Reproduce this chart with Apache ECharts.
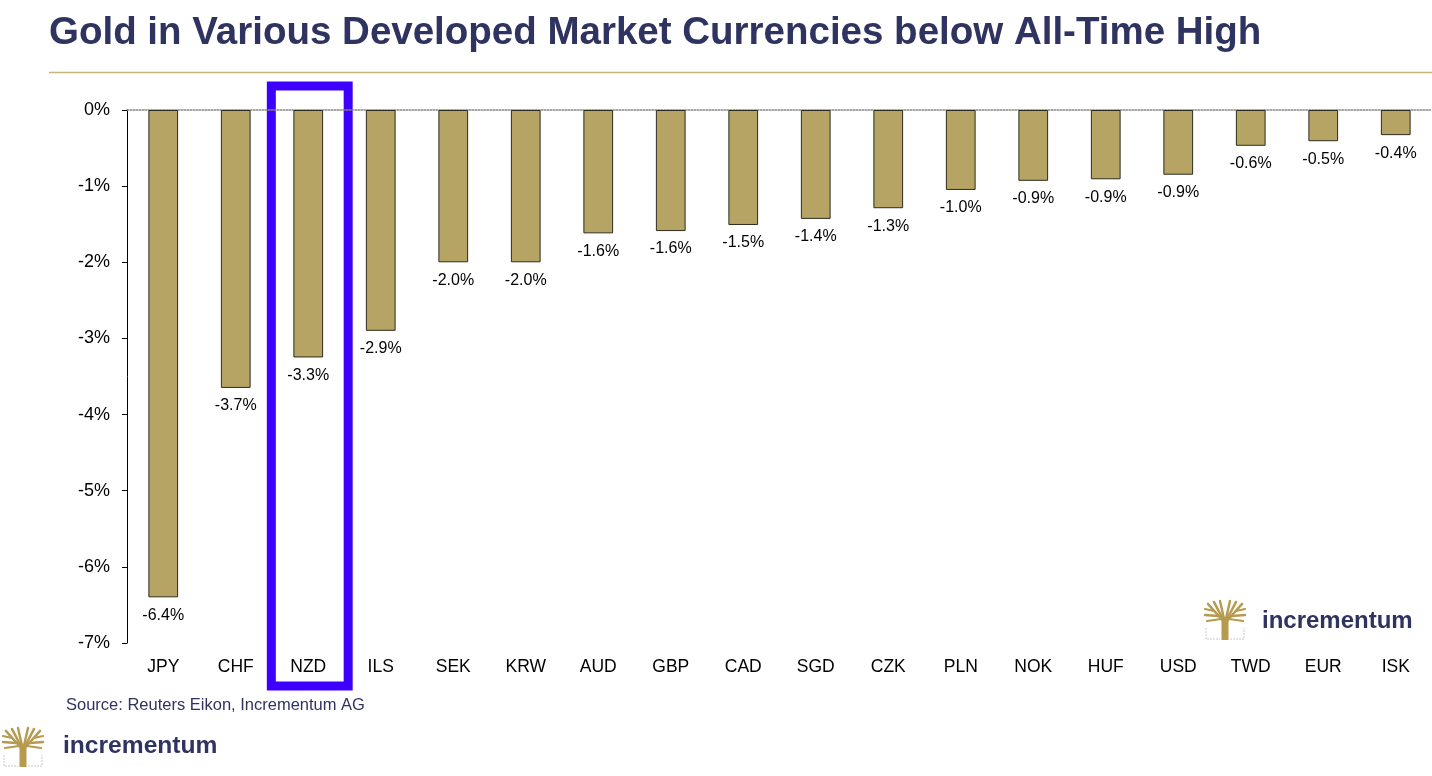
<!DOCTYPE html>
<html><head><meta charset="utf-8">
<script src="https://cdn.jsdelivr.net/npm/echarts@6/dist/echarts.min.js"></script>
<style>html,body{margin:0;padding:0;background:#fff}#c{width:1432px;height:776px}</style>
</head><body><div id="c"></div>
<script>
const categories = ['JPY','CHF','NZD','ILS','SEK','KRW','AUD','GBP','CAD','SGD','CZK','PLN','NOK','HUF','USD','TWD','EUR','ISK'];
const values = [-6.40,-3.65,-3.25,-2.90,-2.00,-2.00,-1.62,-1.59,-1.51,-1.43,-1.29,-1.05,-0.93,-0.91,-0.85,-0.47,-0.41,-0.33];
const labelTexts = ['-6.4%','-3.7%','-3.3%','-2.9%','-2.0%','-2.0%','-1.6%','-1.6%','-1.5%','-1.4%','-1.3%','-1.0%','-0.9%','-0.9%','-0.9%','-0.6%','-0.5%','-0.4%'];
const yTicks = [0,-1,-2,-3,-4,-5,-6,-7];
const highlighted = 'NZD';

const NAVY = '#2f3360', GOLD = '#b5a463';
const chart = echarts.init(document.getElementById('c'));
const font = 'Liberation Sans, Arial, sans-serif';

function treeIcon(x, y, s) {
  const c = [];
  const L = (x1,y1,x2,y2,w)=>c.push({type:'line',shape:{x1:x+x1*s,y1:y+y1*s,x2:x+x2*s,y2:y+y2*s},style:{stroke:'#b59a4f',lineWidth:w*s,lineCap:'round'}});
  c.push({type:'rect',shape:{x:x+16.5*s,y:y+18*s,width:7*s,height:21*s},style:{fill:'#b59a4f'}});
  L(20,22,3,3,2.6); L(20,22,9,1,2.6); L(20,22,15,0,2.4); L(20,22,25,0,2.4); L(20,22,31,1,2.6); L(20,22,37,3,2.6);
  L(13,15,0,14,2.4); L(27,15,40,14,2.4); L(9,10,0,8,2.2); L(31,10,40,8,2.2);
  L(16,18,2,20,2.2); L(24,18,38,20,2.2);
  c.push({type:'polyline',shape:{points:[[x+1*s,y+27*s],[x+1*s,y+38*s],[x+15*s,y+38*s]]},style:{stroke:'#c8c8c8',lineWidth:1,fill:null,lineDash:[2,1]}});
  c.push({type:'polyline',shape:{points:[[x+25*s,y+38*s],[x+39*s,y+38*s],[x+39*s,y+27*s]]},style:{stroke:'#c8c8c8',lineWidth:1,fill:null,lineDash:[2,1]}});
  return c;
}

const baseOption = {
  animation:false,
  backgroundColor:'#fff',
  grid:{left:127,right:0,top:110,bottom:133},
  xAxis:[
    {type:'category',data:categories,position:'top',
     axisLine:{onZero:false,lineStyle:{color:'#888',type:'dotted',width:1.5}},
     axisTick:{inside:true,length:5,lineStyle:{color:'#333'}},
     axisLabel:{show:false},splitLine:{show:false}},
    {type:'category',data:categories,position:'bottom',
     axisLine:{show:false},axisTick:{show:false},
     axisLabel:{color:'#000',fontSize:17.5,fontFamily:font,margin:15}}
  ],
  yAxis:{type:'value',min:-7,max:0,interval:1,
    axisLine:{show:true,lineStyle:{color:'#000',width:1}},
    axisTick:{show:true,length:5,lineStyle:{color:'#000'}},
    splitLine:{show:false},
    axisLabel:{color:'#000',fontSize:18,fontFamily:font,margin:17,
      formatter:v=>yTicks.includes(v)?v+'%':''}},
  series:[{type:'bar',data:values,barWidth:'41%',xAxisIndex:0,
    itemStyle:{color:GOLD,borderColor:'#2e2b1e',borderWidth:1},
    label:{show:true,position:'bottom',distance:10,color:'#000',fontSize:16,fontFamily:font,
      formatter:p=>labelTexts[p.dataIndex]}}]
};
chart.setOption(baseOption);

// highlight rectangle around the chosen category, positioned from the axis scale
const idx = categories.indexOf(highlighted);
const cx = chart.convertToPixel({xAxisIndex:0}, idx) + 1.5;
const step = chart.convertToPixel({xAxisIndex:0}, 1) - chart.convertToPixel({xAxisIndex:0}, 0);
const y0 = chart.convertToPixel({yAxisIndex:0}, 0);
const y7 = chart.convertToPixel({yAxisIndex:0}, -7);

chart.setOption({graphic:[
  {id:'title',type:'text',left:49,top:14,style:{text:'Gold in Various Developed Market Currencies below All-Time High',fill:NAVY,font:'bold 38.5px '+font}},
  {id:'rule',type:'line',shape:{x1:49,y1:72.5,x2:1432,y2:72.5},style:{stroke:'#c9b57a',lineWidth:1.5}},
  {id:'src',type:'text',left:66,top:697,style:{text:'Source: Reuters Eikon, Incrementum AG',fill:NAVY,font:'16.5px '+font}},
  {id:'logo1',type:'text',left:63,top:734,style:{text:'incrementum',fill:NAVY,font:'bold 24.6px '+font}},
  {id:'logo2',type:'text',left:1262,top:609,style:{text:'incrementum',fill:NAVY,font:'bold 24px '+font}},
  {id:'tree1',type:'group',children:treeIcon(3,728,1.0)},
  {id:'tree2',type:'group',children:treeIcon(1205,601,1.0)},
  {id:'hl',type:'rect',shape:{x:cx - step*0.53, y:y0-24, width:step*1.06, height:(y7-y0)+67},
   style:{fill:null,stroke:'#3d00ff',lineWidth:9}}
]});
</script></body></html>
